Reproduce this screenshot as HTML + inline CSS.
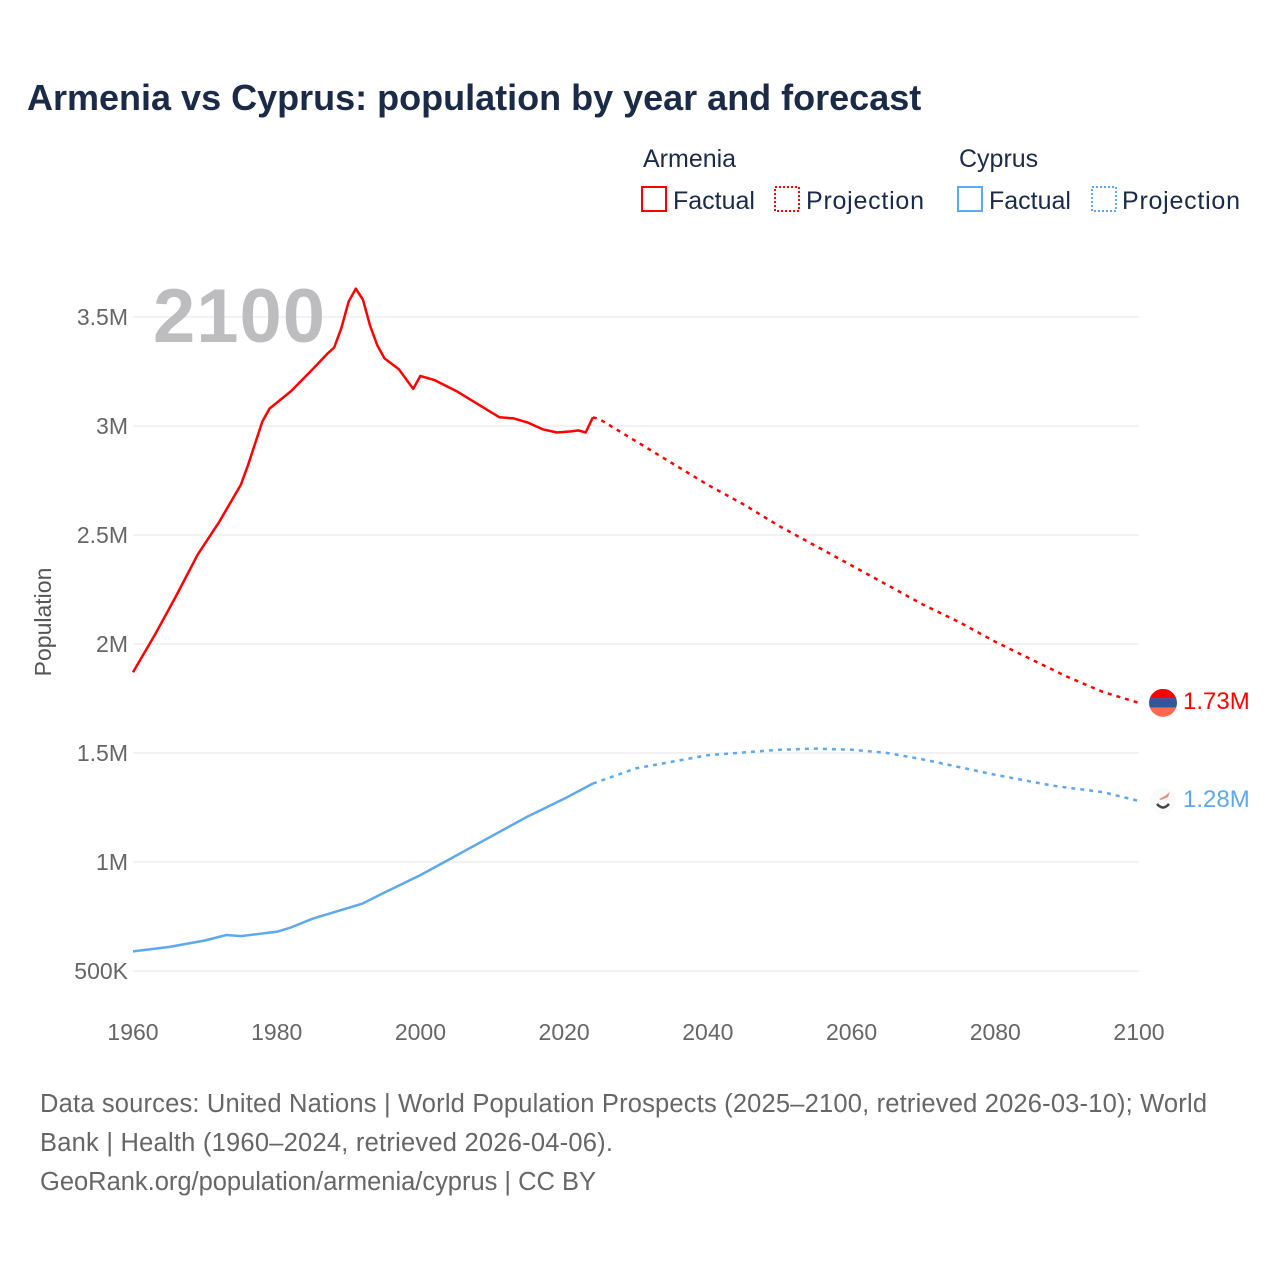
<!DOCTYPE html>
<html><head><meta charset="utf-8"><style>
body{margin:0;background:#fff;font-family:"Liberation Sans",sans-serif;}
svg text{font-family:"Liberation Sans",sans-serif;}
</style></head><body>
<svg id="chart" width="1280" height="1280" xmlns="http://www.w3.org/2000/svg">
<rect width="1280" height="1280" fill="#fff"/>
<text x="27" y="110" font-size="36" font-weight="bold" fill="#1b2a47">Armenia vs Cyprus: population by year and forecast</text>
<g font-size="25" fill="#1b2a47">
<text x="643" y="167">Armenia</text>
<rect x="642" y="187" width="24" height="24" fill="none" stroke="#ff0000" stroke-width="2"/>
<text x="673" y="209">Factual</text>
<rect x="775" y="187" width="24" height="24" fill="none" stroke="#ff0000" stroke-width="2" stroke-dasharray="2,2"/>
<text x="806" y="209" textLength="118">Projection</text>
<text x="959" y="167">Cyprus</text>
<rect x="958" y="187" width="24" height="24" fill="none" stroke="#5ea8ec" stroke-width="2"/>
<text x="989" y="209">Factual</text>
<rect x="1092" y="187" width="24" height="24" fill="none" stroke="#5ea8ec" stroke-width="2" stroke-dasharray="2,2"/>
<text x="1122" y="209" textLength="118">Projection</text>
</g>
<g id="grid"></g>
<text x="153" y="342" font-size="76" font-weight="bold" fill="#bdbdbf" textLength="172">2100</text>
<text transform="translate(51,622) rotate(-90)" text-anchor="middle" font-size="23" fill="#555">Population</text>
<g id="marks"></g>
<g font-size="25.5" fill="#666">
<text x="40" y="1112" textLength="1167">Data sources: United Nations | World Population Prospects (2025–2100, retrieved 2026-03-10); World</text>
<text x="40" y="1151" textLength="573">Bank | Health (1960–2024, retrieved 2026-04-06).</text>
<text x="40" y="1190" textLength="556">GeoRank.org/population/armenia/cyprus | CC BY</text>
</g>
</svg>
<script>
const xTicks=[1960,1980,2000,2020,2040,2060,2080,2100];
const yTicks=[0.5,1,1.5,2,2.5,3,3.5];
const yTickLabels=["500K","1M","1.5M","2M","2.5M","3M","3.5M"];
const armYears=[1960,1963,1966,1969,1972,1975,1976,1978,1979,1982,1985,1987,1988,1989,1990,1991,1992,1993,1994,1995,1997,1999,2000,2002,2005,2008,2011,2013,2015,2017,2019,2021,2022,2023,2024];
const armVals=[1.87,2.04,2.22,2.41,2.56,2.73,2.82,3.02,3.08,3.16,3.26,3.33,3.36,3.45,3.57,3.63,3.58,3.46,3.37,3.31,3.26,3.17,3.23,3.21,3.16,3.10,3.04,3.035,3.015,2.985,2.97,2.975,2.98,2.97,3.04];
const armProjYears=[2024,2025,2030,2035,2040,2045,2050,2055,2060,2065,2070,2075,2080,2085,2090,2095,2100];
const armProjVals=[3.04,3.03,2.93,2.83,2.73,2.64,2.54,2.45,2.36,2.27,2.18,2.10,2.01,1.93,1.85,1.78,1.73];
const cypYears=[1960,1965,1970,1973,1975,1980,1982,1985,1990,1992,1995,2000,2005,2010,2015,2020,2024];
const cypVals=[0.59,0.61,0.64,0.665,0.66,0.68,0.70,0.74,0.79,0.81,0.86,0.94,1.03,1.12,1.21,1.29,1.36];
const cypProjYears=[2024,2030,2040,2050,2055,2060,2065,2070,2080,2088,2095,2100];
const cypProjVals=[1.36,1.43,1.49,1.515,1.52,1.515,1.50,1.47,1.40,1.35,1.32,1.28];
const NS="http://www.w3.org/2000/svg";
const X=y=>133+(y-1960)*(1006/140);
const Y=v=>971-(v-0.5)*218;
const grid=document.getElementById('grid'),marks=document.getElementById('marks');
function mk(tag,attrs,parent){const e=document.createElementNS(NS,tag);for(const k in attrs)e.setAttribute(k,attrs[k]);parent.appendChild(e);return e;}
yTicks.forEach((v,i)=>{
 const l=mk('line',{x1:133,x2:1139,y1:Y(v),y2:Y(v),stroke:'#e6e6e6','stroke-width':1},grid);
 
 
 const t=mk('text',{x:128,y:Y(v)+8,'text-anchor':'end','font-size':23,fill:'#666'},grid);
 t.textContent=yTickLabels[i];
 
 
});
xTicks.forEach(y=>{
 const t=mk('text',{x:X(y),y:1040,'text-anchor':'middle','font-size':23,fill:'#666'},grid);
 t.textContent=y;
 
 
});
function line(xs,vs,color,dash,name){
 const d=xs.map((y,i)=>(i?'L':'M')+X(y).toFixed(1)+','+Y(vs[i]).toFixed(1)).join('');
 const p=mk('path',{d:d,fill:'none',stroke:color,'stroke-width':2.5,'stroke-linejoin':'round'},marks);
 if(dash)p.setAttribute('stroke-dasharray','4,5');
 
 
}
line(armYears,armVals,'#ff0000',false,'armenia-factual-line');
line(armProjYears,armProjVals,'#ff0000',true,'armenia-projection-line');
line(cypYears,cypVals,'#5ea8ec',false,'cyprus-factual-line');
line(cypProjYears,cypProjVals,'#5ea8ec',true,'cyprus-projection-line');
const ax=1163,ay=Y(armProjVals[armProjVals.length-1]);
const g=mk('g',{},marks);


mk('clipPath',{id:'fc'},g);
mk('circle',{cx:ax,cy:ay,r:14},g.firstChild);
mk('rect',{x:ax-14,y:ay-14,width:28,height:9.5,fill:'#f00','clip-path':'url(#fc)'},g);
mk('rect',{x:ax-14,y:ay-4.7,width:28,height:9.5,fill:'#33569b','clip-path':'url(#fc)'},g);
mk('rect',{x:ax-14,y:ay+4.7,width:28,height:9.5,fill:'#ff6a4a','clip-path':'url(#fc)'},g);
const al=mk('text',{x:1183,y:ay+6,'font-size':24,fill:'#ff0000'},marks);
al.textContent='1.73M';


const cy=Y(cypProjVals[cypProjVals.length-1]);
const cg=mk('g',{},marks);


mk('circle',{cx:1163,cy:cy,r:13,fill:'#fafafa'},cg);
mk('path',{d:`M1159,${cy-2} l6,-3 l5,-4 l-2,5 l-7,3z`,fill:'#e88a7a'},cg);
mk('path',{d:`M1157,${cy+3} q6,7 12,0`,fill:'none',stroke:'#444','stroke-width':2.5},cg);
const cl=mk('text',{x:1183,y:cy+6,'font-size':24,fill:'#5ea8ec'},marks);
cl.textContent='1.28M';


</script>
</body></html>
